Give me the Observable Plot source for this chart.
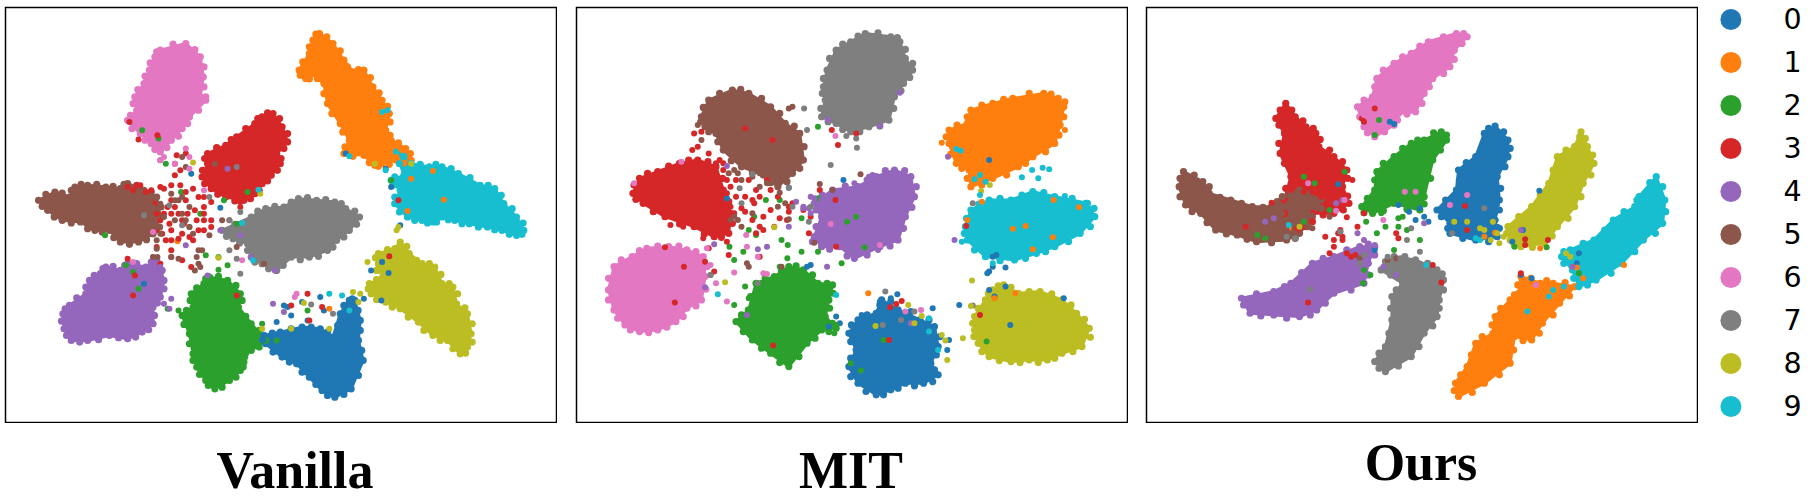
<!DOCTYPE html>
<html><head><meta charset="utf-8">
<script src="https://cdn.jsdelivr.net/npm/d3@7"></script>
<script src="https://cdn.jsdelivr.net/npm/@observablehq/plot@0.6"></script>
<style>html,body{margin:0;padding:0;background:#fff}
#c{position:relative;width:1814px;height:498px;overflow:hidden}
#c svg{position:absolute;display:block;background:transparent}
.t{position:absolute;font:bold 52px/46px "Liberation Serif",serif;color:#000;white-space:nowrap;transform:translateX(-50%)}
</style></head><body><div id="c"></div>
<script>
const categories=["0","1","2","3","4","5","6","7","8","9"];
const palette=["#1f77b4","#ff7f0e","#2ca02c","#d62728","#9467bd","#8c564b","#e377c2","#7f7f7f","#bcbd22","#17becf"];
const vanillaEdge=[
[975,900,990,960,985,1020,998,1080,965,1165,920,1190,885,1170,850,1130,815,1090,775,1070,730,1030,725,1005,770,995,830,980,880,985,915,1010,935,940,960,900],
[878,100,915,130,945,180,970,215,1000,210,1025,260,1050,300,1070,340,1060,390,1075,420,1115,445,1130,480,1090,480,1050,490,1030,495,1000,465,945,460,960,420,935,370,900,310,890,250,860,220,840,235,822,210,850,160,860,120],
[575,830,625,840,660,880,655,920,690,970,730,1020,690,1050,660,1060,670,1085,660,1110,630,1140,590,1165,565,1140,540,1100,530,1060,520,1000,500,945,530,920,525,880,560,850],
[750,340,775,380,790,425,760,460,770,490,745,525,720,550,700,580,670,600,620,590,580,565,555,530,570,490,570,460,620,435,650,410,700,370,720,350],
[290,800,330,810,350,790,400,800,430,780,450,840,440,890,420,920,420,970,390,995,350,1015,300,1005,240,1020,195,1020,175,985,172,940,190,915,235,880,245,840,275,820],
[105,600,150,575,190,590,205,560,240,555,290,560,330,565,350,550,395,570,430,590,440,650,420,700,380,725,330,725,300,690,260,690,220,665,170,660,130,630],
[440,150,510,130,550,170,558,230,550,290,565,300,520,350,500,385,470,420,440,455,415,430,385,400,350,360,375,330,370,290,395,250,410,210,425,170],
[820,595,870,600,920,605,950,625,988,650,960,690,925,720,900,750,850,770,800,770,760,810,720,790,690,770,680,730,640,715,610,690,690,650,730,625,780,620],
[1100,725,1125,760,1160,790,1195,800,1215,850,1245,860,1255,910,1285,940,1295,1000,1285,1040,1265,1060,1230,1020,1190,1005,1150,965,1100,925,1060,905,1020,880,1015,850,1050,835,1040,790,1040,760,1085,745],
[1090,455,1130,490,1180,500,1215,500,1260,520,1320,555,1360,565,1385,610,1420,650,1440,690,1420,705,1380,690,1340,680,1290,670,1250,660,1215,650,1190,665,1160,660,1120,650,1085,610,1100,570,1075,540,1110,525]];
const vanillaRing=[
[984,930,990,990,994,1050,985,1125,945,1182,900,1185,868,1152,830,1115,795,1085,750,1055,722,1018,748,998,800,985,855,980,900,995,928,975,945,915,968,895],
[898,110,935,152,955,200,985,208,1018,232,1042,278,1065,318,1072,365,1072,405,1095,428,1128,460,1110,488,1070,492,1040,498,1015,487,970,468,948,440,942,395,912,340,890,280,872,235,850,236,825,225,832,185,850,140,868,102],
[600,828,648,855,665,900,675,948,712,990,712,1040,675,1058,672,1070,668,1100,648,1130,610,1160,572,1155,548,1122,530,1080,520,1030,505,972,512,930,522,900,540,862,565,835],
[768,355,790,400,780,445,772,475,762,510,735,542,712,570,688,595,645,602,598,582,562,550,556,510,562,475,595,442,635,418,675,385,708,355,735,338],
[310,798,342,795,375,790,415,785,445,810,450,865,432,908,424,945,408,988,372,1010,325,1012,270,1018,218,1025,182,1005,168,962,178,925,210,892,235,860,258,825,282,805],
[125,582,170,578,195,570,222,552,265,552,310,558,340,552,375,555,415,575,442,620,438,680,402,718,355,732,312,712,280,695,240,685,195,668,148,650,115,618],
[475,132,535,148,560,200,560,260,565,290,545,330,515,370,490,408,458,442,425,448,398,420,362,385,358,345,365,310,378,268,398,228,412,188,430,155],
[845,592,895,598,938,610,975,632,980,672,945,710,915,740,875,768,825,778,778,795,738,805,700,785,680,750,658,728,622,708,645,672,708,632,755,618,800,605],
[1118,738,1145,780,1180,790,1212,822,1235,850,1258,880,1278,922,1298,970,1298,1025,1280,1058,1245,1045,1210,1020,1165,990,1122,950,1078,920,1035,898,1012,865,1035,838,1035,810,1032,772,1065,748],
[1110,468,1155,492,1198,492,1240,505,1292,532,1342,555,1378,585,1408,625,1438,668,1435,702,1400,702,1360,688,1315,680,1270,670,1232,658,1200,665,1175,668,1140,660,1098,635,1085,590,1080,555,1085,530,1098,490]];
const vanillaStray=[
[1075,560,1100,675,1050,785,1020,810,1068,818,1048,900,605,622,525,520,395,850,760,965,790,920,830,905,880,890,890,930,845,960,1000,895,960,900,950,460,1060,505,780,915,800,945],
[1100,445,1090,470,1030,490,905,925,487,723,1120,632,1190,512,1220,598,1130,535],
[390,390,435,415,455,490,497,575,345,795,365,815,380,865,288,705,565,765,600,770,625,795,600,808,650,670,520,680,550,640,615,600,680,575,845,930,760,1020,720,970,1075,540,490,930,460,925],
[355,365,380,418,432,405,485,465,510,460,350,560,385,555,415,570,450,565,495,555,530,565,560,590,580,605,470,600,510,600,450,640,490,640,535,630,580,660,470,690,505,670,545,690,580,680,455,720,490,715,520,710,470,770,525,800,440,790,495,510,480,525,480,490,370,825,350,775,365,885,1070,768,845,880,885,920,850,960,800,915,660,605,1095,600,650,885,425,610,470,640,515,640,430,690,560,690,440,560,470,555,510,575,545,590,430,640,460,620,480,620,440,660,465,670,500,660,540,660,560,640,445,700,470,720,500,700,560,660,560,620,660,620,530,720,470,750,500,780,430,740,400,575,590,560,375,555,365,570],
[605,690,660,705,690,770,755,810,470,895,450,910,465,925,440,800,420,770,510,735,570,825,750,910,780,935,625,505],
[440,480,500,470,510,500,590,490,430,680,430,720,432,770,480,600,500,640,520,680,450,650,480,660,440,700,575,705,555,750,545,790,535,810,630,660,725,790,420,620,440,610,470,580,500,590,520,620,510,660,530,700,490,600,425,660,415,700,430,745,420,770,540,770,550,800,545,750,470,770,490,775,610,660,650,740],
[430,440,450,470,510,445,480,490,520,470,440,480,560,570,365,785,815,880,810,890,665,780,520,505,420,695],
[650,500,395,645,660,635,630,660,650,775,660,820,630,750,855,912,915,940,500,675,465,615,575,590],
[530,487,600,772,715,580,835,908,905,985,800,985,720,985,970,875,990,880,985,905,1095,680,1090,690,1030,490,1130,490,1010,785],
[905,880,960,930,665,668,940,885,960,468,1065,330,1050,335,710,568,695,780,1060,510]];
const mitEdge=[
[855,900,900,930,960,960,1000,980,1010,1040,990,1090,1010,1125,970,1150,920,1150,880,1170,840,1185,790,1150,765,1100,785,1050,765,1000,790,960,840,940],
[1215,295,1300,280,1340,295,1355,320,1345,375,1330,430,1270,470,1230,500,1160,535,1100,560,1095,510,1060,490,1040,430,1040,390,1090,370,1100,330,1160,310],
[600,800,640,810,680,850,720,855,710,900,700,950,730,985,690,990,650,1030,600,1100,550,1060,500,1020,455,965,490,930,510,850,560,830],
[300,490,350,480,400,500,420,570,440,640,435,700,395,710,340,680,260,650,200,610,172,580,190,535,240,515],
[890,510,935,530,945,590,920,650,900,720,850,740,780,775,740,740,690,740,670,710,690,650,670,610,720,570,790,560,840,530],
[445,270,490,280,550,320,590,370,630,400,640,480,610,520,570,560,530,525,470,500,420,450,400,400,370,380,360,350,380,300],
[210,745,270,740,320,750,365,770,370,830,360,900,320,925,290,965,240,990,190,995,150,975,120,930,105,870,120,800,170,770],
[810,100,880,110,905,125,920,175,940,210,915,250,890,290,875,360,820,380,770,395,730,370,690,350,700,300,695,260,705,210,730,150,770,125],
[1190,855,1230,880,1290,875,1350,900,1390,940,1425,985,1405,1040,1350,1060,1310,1080,1260,1080,1210,1085,1150,1070,1120,1030,1110,990,1110,950,1140,900,1160,870],
[1270,575,1330,590,1420,610,1440,650,1400,700,1330,740,1280,760,1220,780,1140,770,1090,720,1085,680,1100,630,1150,600,1210,600]];
const mitRing=[
[880,905,935,935,985,960,1015,1010,1005,1065,1000,1110,995,1145,945,1158,900,1165,860,1185,812,1175,770,1130,770,1075,770,1025,772,975,815,945,850,915],
[1260,280,1320,282,1358,305,1355,350,1342,405,1305,455,1250,490,1198,525,1130,555,1090,535,1075,505,1045,462,1032,410,1062,375,1090,350,1130,315,1190,298],
[620,798,665,825,705,850,722,880,712,925,720,970,710,995,672,1015,628,1070,575,1088,525,1045,475,995,470,945,495,890,535,835,580,812],
[325,480,378,485,418,535,435,605,445,670,415,712,368,702,300,672,228,635,180,598,175,555,212,520,270,498],
[865,512,918,512,950,560,938,622,915,685,878,738,815,765,760,768,712,748,665,725,675,680,675,630,692,585,755,558,815,540],
[468,268,525,295,575,340,615,378,642,440,630,505,595,545,550,548,500,518,442,482,405,425,380,395,358,365,365,322,410,280],
[240,738,298,738,345,755,375,800,372,868,345,918,310,950,265,982,215,998,165,990,130,955,105,900,105,835,140,780,190,752],
[845,98,898,112,920,148,940,190,932,232,908,272,888,325,850,378,795,395,748,388,708,365,688,325,692,280,695,235,712,175,748,132,790,108],
[1210,862,1260,875,1322,882,1375,915,1412,958,1428,1012,1380,1055,1330,1075,1285,1088,1235,1088,1178,1082,1130,1055,1108,1010,1105,970,1120,925,1148,880,1175,858],
[1300,578,1378,595,1438,625,1428,680,1368,725,1305,755,1250,775,1180,782,1110,750,1082,700,1088,655,1122,612,1180,595,1240,585]];
const mitStray=[
[1150,480,750,540,660,795,650,800,600,563,430,595,1165,890,1150,870,1195,860,1355,895,1068,915,1150,815,1160,770,1170,765,1195,803,995,925,880,895,898,883,850,905,710,980,740,970,730,950,1040,1020,1035,1050,1208,975,1145,820,1160,800,800,945],
[1020,428,1358,390,1130,605,818,880,1222,880,1165,895,1327,600,1397,622,1325,712,1215,686,1270,748,1090,660,1250,678],
[680,380,680,595,785,650,760,665,808,742,745,790,680,755,635,655,635,755,575,600,537,600,505,650,490,690,510,705,580,720,597,735,596,775,575,800,437,740,450,780,475,755,480,860,490,895,450,915,487,930,1143,1025,860,1020,798,1112,770,1090,730,975,725,1000],
[340,400,360,395,350,440,335,450,380,460,420,490,490,540,540,540,600,620,640,630,655,700,730,740,718,390,735,435,785,400,260,742,312,800,287,908,395,815,370,785,557,1037,878,922,895,912,910,903,875,1020,1125,945,1087,678,555,420,480,385,435,765,520,770,380,745,430,580,480,590,505,610,550,630,480,635,520,680,560,680,365,715,430,725,275,675,310,680,685,570,728,600,440,560,455,590,500,600,520,590,440,620,470,625,500,660,530,650,450,640,400,490,430,540,420,510,410,480,455,540,510,570,550,570,570,590,610,610,600,635,660,650,510,700,530,690,575,655,595,660],
[430,498,395,733,850,378,845,750,708,360,905,278,1037,470,1055,720,540,740,515,748,705,800,485,945,370,862,935,970,600,680,640,625,660,590,750,575,780,550,830,525,735,580,820,530,620,605,670,595,690,600,640,620,660,640,680,680,655,625],
[610,320,600,325,580,800,485,790,490,800,385,825,797,523,685,552,720,570,435,520,500,530,540,550,575,578,460,660,500,640,600,658,670,728,460,520,350,375,360,420,495,440,610,400,450,510,470,540,520,520,570,540,520,560,570,620,450,650,470,680,590,610,440,660],
[375,745,385,795,360,820,430,905,400,850,450,818,530,820,485,740,515,770,850,735,715,672,728,408,920,935,963,930,483,705,305,485,175,550,540,822],
[642,325,650,390,787,443,715,495,758,408,785,415,865,875,858,975,908,960,945,935,1105,610,1105,917,465,565,500,522,470,610,655,665,515,850,385,825,600,563,660,620,610,620],
[1103,842,1152,555,1128,573,425,847,560,682,1100,918,928,915,1020,1005,1030,1022,1035,1080,1078,1015,838,978,945,970,965,948],
[1072,452,1060,447,1315,508,1285,535,1240,532,1268,510,1297,503,1125,525,1110,538,1140,545,1125,585,405,883,730,885,985,955,1010,1050,1075,725,1160,790,985,995,1415,608,1358,588]];
const oursEdge=[
[825,378,855,420,855,470,830,530,835,600,825,660,830,710,780,720,720,700,720,670,690,630,735,570,740,510,780,470,800,400],
[885,830,930,850,960,850,1010,860,975,910,935,970,910,1020,870,1010,860,1090,800,1150,740,1190,733,1150,760,1100,780,1030,820,1000,825,950,860,900,880,880],
[700,395,712,420,680,480,660,590,650,630,590,610,540,640,515,620,545,570,550,515,590,470,630,430,660,420],
[338,310,360,350,385,380,408,400,415,440,450,470,480,510,470,560,485,610,450,640,400,640,385,680,345,680,335,600,350,530,325,460,335,400,315,355],
[235,895,310,875,350,850,400,790,450,770,510,740,545,740,530,790,520,850,450,880,410,930,370,950,310,945,255,940],
[100,515,145,545,160,580,210,600,260,620,305,620,330,590,370,570,420,600,400,650,370,700,340,720,270,725,225,705,175,690,140,640,105,615,90,560],
[735,100,760,110,730,150,720,200,680,235,660,280,640,335,600,340,590,375,545,410,520,380,505,320,540,290,550,235,590,190,630,160,670,125],
[590,770,640,780,690,810,705,840,695,900,690,950,660,1000,630,1070,570,1115,545,1085,570,1040,585,960,585,890,610,850,560,810],
[1025,395,1040,440,1055,490,1030,550,1010,620,970,680,940,730,885,740,860,720,855,680,910,620,950,550,970,470,1010,440],
[1200,530,1220,600,1215,670,1170,720,1120,790,1060,840,1020,860,1005,810,980,770,1000,750,1055,720,1100,660,1150,620,1160,590]];
const oursRing=[
[845,395,860,445,848,500,838,565,835,630,835,685,810,725,750,715,715,685,700,650,710,600,742,540,758,488,795,440,810,385],
[908,835,945,842,988,848,998,888,960,945,928,1000,890,1022,868,1050,835,1125,772,1178,730,1172,745,1125,770,1065,795,1010,818,975,838,925,870,885,878,855],
[712,405,698,450,675,535,660,612,620,628,565,632,520,638,528,595,545,540,565,490,610,445,645,420,682,398],
[352,330,378,362,402,385,418,418,440,450,470,485,482,535,482,588,472,630,425,645,400,665,365,690,335,640,338,565,335,490,322,430,322,375,325,330],
[270,882,335,860,375,818,425,775,480,750,530,732,545,765,530,825,490,870,430,910,395,945,340,955,280,948,240,915],
[125,525,160,560,185,592,235,610,285,622,318,605,350,575,395,580,420,625,390,680,360,715,305,728,248,718,200,702,155,668,120,635,92,590,92,535],
[752,100,748,130,730,178,705,220,672,260,655,310,620,342,598,360,568,395,528,398,510,350,520,300,545,260,565,210,610,170,650,138,705,110],
[615,770,668,790,702,822,705,870,695,925,680,978,648,1040,600,1098,555,1105,555,1060,578,1000,582,925,595,870,582,825,570,785],
[1035,415,1052,465,1048,525,1025,590,995,655,958,708,912,742,870,735,852,700,880,650,930,585,960,510,990,450,1022,410],
[1215,560,1222,635,1198,700,1150,755,1095,820,1040,855,1008,835,985,790,985,755,1030,730,1080,690,1125,635,1155,600,1185,548]];
const oursStray=[
[460,553,545,750,625,635,650,625,660,650,670,665,640,660,580,365,590,372,928,572,345,680,775,710,750,680,740,690,885,825,890,690,1015,790,865,725,910,835,1020,760,800,700,830,680,600,615],
[345,683,1015,803,1030,835,930,745,825,698,1125,795,800,710],
[475,515,380,530,405,550,440,630,530,620,560,640,525,665,610,650,600,655,570,680,550,700,600,680,590,750,520,810,535,825,518,850,545,405,555,360,272,705,290,715,870,740,945,742,1020,820,380,665,620,690,650,720],
[493,540,480,652,520,640,505,680,595,700,600,715,490,770,460,700,430,710,450,740,470,720,480,760,500,765,440,760,755,618,760,690,895,718,895,735,948,720,885,820,700,848,680,795,390,908,245,680,305,608,545,325,515,355,520,365,465,690,470,710,450,720,350,570,380,575,420,590,440,610,400,575,470,600],
[290,665,520,720,505,700,545,735,565,800,595,825,310,655,660,670,720,615,885,690,1005,800,470,600,455,610],
[465,695,575,780,595,775,400,685,440,650,510,775,285,700,345,610,370,600,395,605,330,640,360,640,340,690,360,700,320,690,345,660,410,620,390,640],
[390,550,455,632,475,600,760,585,720,615,505,320,520,345,548,380,565,660,640,575,615,575,920,855],
[520,765,510,790,620,720,650,755,465,695,800,625,725,700,630,685,575,770,340,710,360,715,395,868,605,775],
[730,665,820,665,790,685,830,700,815,720,835,730,845,710,1000,770,990,760,800,690,760,665,370,680],
[950,890,900,935,665,795,780,715,790,720,345,675,985,860,960,870]];

function toRows(lists){const out=[];lists.forEach((l,k)=>{for(let i=0;i<l.length;i+=2)out.push({x:l[i],y:l[i+1],k:categories[k]})});return out}
const color={domain:categories,range:palette};
function panel(left,top,w,h,xd,yd,edge,ring,stray){
  const s=Plot.plot({width:w,height:h,margin:1,x:{domain:xd,axis:null},y:{domain:yd,axis:null},color,
    marks:[
      Plot.line(toRows(edge),{x:"x",y:"y",z:"k",stroke:"k",fill:"k",strokeWidth:3,curve:"linear-closed",strokeLinejoin:"round"}),
      Plot.dot(toRows(edge),{x:"x",y:"y",r:3.6,fill:"k"}),
      Plot.dot(toRows(ring),{x:"x",y:"y",r:3.6,fill:"k"}),
      Plot.dot(toRows(stray),{x:"x",y:"y",r:3,fill:"k"}),
      Plot.frame({stroke:"#000",strokeWidth:1.5})
    ]});
  s.style.left=left+"px";s.style.top=top+"px";document.getElementById("c").append(s);
}
panel(4,6,553,417,[14,1530],[1266,22],vanillaEdge,vanillaRing,vanillaStray);
panel(575,6,553,417,[17,1530],[1268,22],mitEdge,mitRing,mitStray);
panel(1145,6,553,417,[14,1296],[1268,22],oursEdge,oursRing,oursStray);
const leg=Plot.plot({width:110,height:430,margin:0,x:{domain:[0,1],range:[0,110],axis:null},y:{domain:categories,type:"point",padding:0,range:[16,409],axis:null},color,
  marks:[Plot.dot(categories,{x:()=>0.24,y:d=>d,r:10.5,fill:d=>d}),
  Plot.text(categories,{x:()=>0.8,y:d=>d,text:d=>d,fontSize:28.5,fontFamily:"DejaVu Sans",fill:"#000"})]});
leg.style.left="1704px";leg.style.top="0";document.getElementById("c").append(leg);
[["Vanilla",295,448],["MIT",851,448],["Ours",1421,440]].forEach(([t,x,y])=>{const d=document.createElement("div");d.className="t";d.textContent=t;d.style.left=x+"px";d.style.top=y+"px";document.getElementById("c").append(d)});
</script></body></html>
